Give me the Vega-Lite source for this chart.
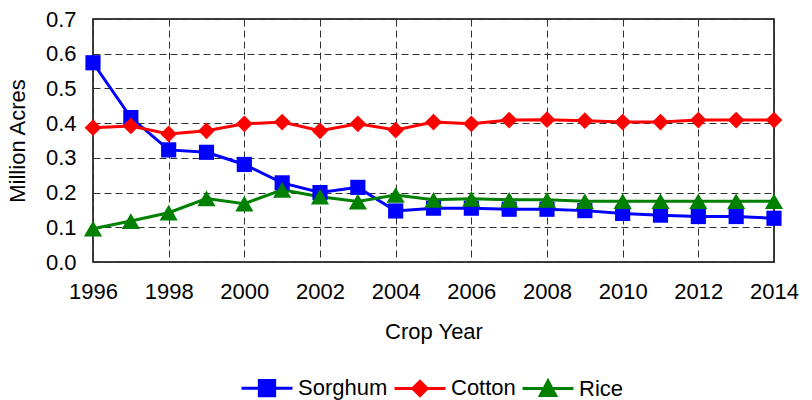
{
  "$schema": "https://vega.github.io/schema/vega-lite/v6.json",
  "width": 681,
  "height": 243,
  "autosize": {"type": "none"},
  "padding": {"left": 93, "top": 19, "right": 38, "bottom": 138},
  "background": "white",
  "config": {
    "font": "Liberation Sans",
    "view": {"stroke": "black", "strokeWidth": 1.5},
    "axis": {
      "labelFont": "Liberation Sans",
      "titleFont": "Liberation Sans",
      "labelColor": "black",
      "titleColor": "black",
      "titleFontWeight": "normal",
      "domain": false,
      "ticks": false,
      "gridColor": "#303030",
      "gridDash": [7, 4],
      "gridWidth": 1,
      "gridOpacity": 1
    }
  },
  "data": {
    "values": [
      {"year": 1996, "crop": "Sorghum", "acres": 0.574},
      {"year": 1997, "crop": "Sorghum", "acres": 0.416},
      {"year": 1998, "crop": "Sorghum", "acres": 0.323},
      {"year": 1999, "crop": "Sorghum", "acres": 0.316},
      {"year": 2000, "crop": "Sorghum", "acres": 0.281},
      {"year": 2001, "crop": "Sorghum", "acres": 0.228},
      {"year": 2002, "crop": "Sorghum", "acres": 0.2},
      {"year": 2003, "crop": "Sorghum", "acres": 0.215},
      {"year": 2004, "crop": "Sorghum", "acres": 0.147},
      {"year": 2005, "crop": "Sorghum", "acres": 0.155},
      {"year": 2006, "crop": "Sorghum", "acres": 0.155},
      {"year": 2007, "crop": "Sorghum", "acres": 0.152},
      {"year": 2008, "crop": "Sorghum", "acres": 0.152},
      {"year": 2009, "crop": "Sorghum", "acres": 0.148},
      {"year": 2010, "crop": "Sorghum", "acres": 0.14},
      {"year": 2011, "crop": "Sorghum", "acres": 0.135},
      {"year": 2012, "crop": "Sorghum", "acres": 0.131},
      {"year": 2013, "crop": "Sorghum", "acres": 0.131},
      {"year": 2014, "crop": "Sorghum", "acres": 0.126},
      {"year": 1996, "crop": "Cotton", "acres": 0.387},
      {"year": 1997, "crop": "Cotton", "acres": 0.392},
      {"year": 1998, "crop": "Cotton", "acres": 0.369},
      {"year": 1999, "crop": "Cotton", "acres": 0.378},
      {"year": 2000, "crop": "Cotton", "acres": 0.398},
      {"year": 2001, "crop": "Cotton", "acres": 0.403},
      {"year": 2002, "crop": "Cotton", "acres": 0.378},
      {"year": 2003, "crop": "Cotton", "acres": 0.398},
      {"year": 2004, "crop": "Cotton", "acres": 0.38},
      {"year": 2005, "crop": "Cotton", "acres": 0.403},
      {"year": 2006, "crop": "Cotton", "acres": 0.398},
      {"year": 2007, "crop": "Cotton", "acres": 0.409},
      {"year": 2008, "crop": "Cotton", "acres": 0.41},
      {"year": 2009, "crop": "Cotton", "acres": 0.407},
      {"year": 2010, "crop": "Cotton", "acres": 0.403},
      {"year": 2011, "crop": "Cotton", "acres": 0.403},
      {"year": 2012, "crop": "Cotton", "acres": 0.409},
      {"year": 2013, "crop": "Cotton", "acres": 0.409},
      {"year": 2014, "crop": "Cotton", "acres": 0.409},
      {"year": 1996, "crop": "Rice", "acres": 0.096},
      {"year": 1997, "crop": "Rice", "acres": 0.118},
      {"year": 1998, "crop": "Rice", "acres": 0.142},
      {"year": 1999, "crop": "Rice", "acres": 0.183},
      {"year": 2000, "crop": "Rice", "acres": 0.168},
      {"year": 2001, "crop": "Rice", "acres": 0.208},
      {"year": 2002, "crop": "Rice", "acres": 0.188},
      {"year": 2003, "crop": "Rice", "acres": 0.174},
      {"year": 2004, "crop": "Rice", "acres": 0.193},
      {"year": 2005, "crop": "Rice", "acres": 0.179},
      {"year": 2006, "crop": "Rice", "acres": 0.182},
      {"year": 2007, "crop": "Rice", "acres": 0.179},
      {"year": 2008, "crop": "Rice", "acres": 0.179},
      {"year": 2009, "crop": "Rice", "acres": 0.175},
      {"year": 2010, "crop": "Rice", "acres": 0.175},
      {"year": 2011, "crop": "Rice", "acres": 0.175},
      {"year": 2012, "crop": "Rice", "acres": 0.175},
      {"year": 2013, "crop": "Rice", "acres": 0.175},
      {"year": 2014, "crop": "Rice", "acres": 0.175}
    ]
  },
  "encoding": {
    "x": {
      "field": "year",
      "type": "quantitative",
      "scale": {"domain": [1996, 2014], "nice": false, "zero": false},
      "axis": {
        "title": "Crop Year",
        "values": [1996, 1998, 2000, 2002, 2004, 2006, 2008, 2010, 2012, 2014],
        "format": "d",
        "labelFontSize": 22,
        "titleFontSize": 22,
        "labelPadding": 19,
        "titlePadding": 19,
        "labelFlush": false
      }
    },
    "y": {
      "field": "acres",
      "type": "quantitative",
      "scale": {"domain": [0, 0.7], "nice": false},
      "axis": {
        "title": "Million Acres",
        "values": [0, 0.1, 0.2, 0.3, 0.4, 0.5, 0.6, 0.7],
        "format": ".1f",
        "labelFontSize": 22,
        "titleFontSize": 22,
        "labelPadding": 17,
        "titlePadding": 16
      }
    }
  },
  "resolve": {"legend": {"color": "independent"}},
  "layer": [
    {
      "mark": {"type": "line", "strokeWidth": 3},
      "encoding": {
        "color": {
          "field": "crop",
          "type": "nominal",
          "scale": {"domain": ["Sorghum", "Cotton", "Rice"], "range": ["#0000FF", "#FF0000", "#008000"]},
          "legend": {
            "title": null,
            "orient": "none",
            "direction": "horizontal",
            "legendX": 147,
            "legendY": 342,
            "labelFontSize": 22,
            "labelColor": "black",
            "labelFont": "Liberation Sans",
            "labelOffset": 4,
            "columnPadding": 0,
            "symbolSize": 2601,
            "symbolStrokeWidth": 3,
            "encode": {
              "symbols": {
                "update": {
                  "shape": {"signal": "datum.value === 'Sorghum' ? 'M-1,0H1M-0.3,-0.3H0.3V0.3H-0.3Z' : datum.value === 'Cotton' ? 'M-1,0H1M-0.28,0L0,-0.28L0.28,0L0,0.28Z' : 'M-1,0H1M-0.3,0.27L0,-0.3L0.3,0.27Z'"},
                  "fill": {"scale": "color", "field": "value"},
                  "stroke": {"scale": "color", "field": "value"},
                  "strokeWidth": {"value": 3},
                  "opacity": {"value": 1},
                  "size": {"value": 2601}
                }
              }
            }
          }
        }
      }
    },
    {
      "mark": {"type": "point", "filled": true, "opacity": 1},
      "encoding": {
        "color": {
          "field": "crop",
          "type": "nominal",
          "scale": {"domain": ["Sorghum", "Cotton", "Rice"], "range": ["#0000FF", "#FF0000", "#008000"]},
          "legend": null
        },
        "shape": {
          "field": "crop",
          "type": "nominal",
          "scale": {"domain": ["Sorghum", "Cotton", "Rice"], "range": ["square", "diamond", "triangle-up"]},
          "legend": null
        },
        "size": {
          "field": "crop",
          "type": "nominal",
          "scale": {"domain": ["Sorghum", "Cotton", "Rice"], "range": [230, 330, 260]},
          "legend": null
        }
      }
    }
  ]
}
